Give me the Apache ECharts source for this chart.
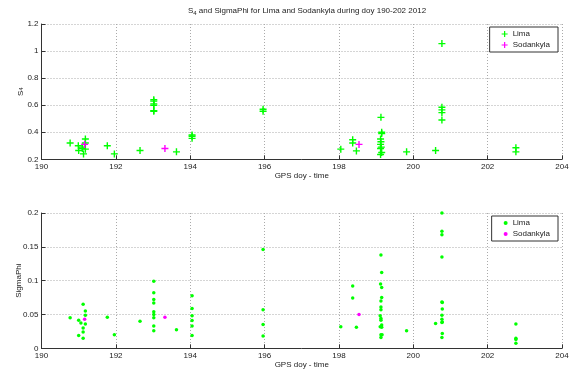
<!DOCTYPE html>
<html>
<head>
<meta charset="utf-8">
<script src="https://cdn.jsdelivr.net/npm/echarts@6/dist/echarts.min.js"></script>
<style>
    html,body{margin:0;padding:0;background:#fff;}
    #chart{width:570px;height:369px;}
</style>
</head>
<body>
<div id="chart"></div>
<script>
// S4 (top panel)
var limaS4Day = [190.77,190.99,191.00,191.10,191.10,191.13,191.18,191.18,191.18,191.77,191.96,192.65,
    193.02,193.02,193.02,193.02,193.02,193.02,193.63,194.05,194.05,194.05,195.96,195.96,
    198.05,198.37,198.37,198.47,199.13,199.15,199.15,199.12,199.13,199.12,199.14,199.12,199.15,199.12,
    199.82,200.60,200.77,200.77,200.77,200.77,200.77,202.76,202.76];
var limaS4 = [0.32,0.30,0.265,0.29,0.28,0.24,0.35,0.32,0.275,0.30,0.24,0.265,
    0.64,0.63,0.61,0.60,0.56,0.555,0.255,0.38,0.37,0.355,0.57,0.555,
    0.275,0.345,0.32,0.262,0.51,0.40,0.39,0.35,0.33,0.31,0.29,0.28,0.25,0.235,
    0.255,0.265,1.055,0.585,0.565,0.545,0.49,0.285,0.255];
var sodS4Day = [191.16,193.32,198.54];
var sodS4 = [0.31,0.28,0.31];

// SigmaPhi (bottom panel)
var limaSPDay = [190.77,191.00,191.00,191.06,191.12,191.12,191.12,191.12,191.18,191.18,191.18,191.77,191.96,192.65,
    193.02,193.02,193.02,193.02,193.02,193.02,193.02,193.02,193.02,193.63,
    194.05,194.05,194.05,194.05,194.05,194.05,195.96,195.96,195.96,195.96,
    198.05,198.37,198.37,198.47,
    199.13,199.15,199.12,199.15,199.15,199.13,199.13,199.13,199.11,199.13,199.13,199.15,199.11,199.15,199.13,199.16,199.13,
    199.82,200.60,
    200.77,200.77,200.77,200.77,200.77,200.78,200.78,200.77,200.77,200.78,200.77,200.78,200.77,
    202.76,202.76,202.76,202.76];
var limaSP = [0.045,0.0415,0.019,0.0375,0.065,0.030,0.024,0.015,0.055,0.049,0.036,0.046,0.020,0.040,
    0.099,0.082,0.072,0.067,0.054,0.050,0.045,0.033,0.026,0.0276,
    0.0775,0.0587,0.048,0.041,0.033,0.019,0.146,0.057,0.035,0.018,
    0.032,0.092,0.0745,0.031,
    0.138,0.112,0.095,0.090,0.075,0.070,0.061,0.057,0.048,0.044,0.0415,0.0345,0.032,0.031,0.020,0.020,0.016,
    0.026,0.0365,
    0.200,0.173,0.168,0.135,0.0686,0.0676,0.058,0.049,0.043,0.039,0.038,0.022,0.016,
    0.036,0.015,0.013,0.0074];
var sodSPDay = [191.16,193.32,198.54];
var sodSP = [0.043,0.046,0.050];

(function(){
    var font = 'Liberation Sans, Arial, sans-serif';
    var txt = '#222';
    var green = '#00ff00', magenta = '#ff00ff';
    var plus = 'path://M4,0h2v4h4v2h-4v4h-2v-4h-4v-2h4z';

    function pairs(xs, ys) {
        return xs.map(function(x, i){ return [x, ys[i]]; });
    }

    function xAxis(idx) {
        return {
            type: 'value', gridIndex: idx, min: 190, max: 204, interval: 2,
            name: 'GPS doy - time', nameLocation: 'middle', nameGap: 12, nameMoveOverlap: false,
            nameTextStyle: {fontFamily: font, fontSize: 8, color: txt},
            axisLine: {lineStyle: {color: '#333', width: 1}},
            axisTick: {inside: true, length: 4, lineStyle: {color: '#333'}},
            axisLabel: {fontFamily: font, fontSize: 8, color: txt, margin: 3},
            splitLine: {show: true, lineStyle: {color: '#aaa', type: [1, 2], width: 1}}
        };
    }

    function yAxis(idx, min, max, step, name, gap) {
        return {
            type: 'value', gridIndex: idx, min: min, max: max, interval: step,
            name: name, nameLocation: 'middle', nameGap: gap, nameMoveOverlap: false,
            nameTextStyle: {fontFamily: font, fontSize: 8, color: txt, rich: {
                sub: {fontSize: 6, verticalAlign: 'bottom', fontFamily: font, color: txt}
            }},
            axisLine: {show: true, lineStyle: {color: '#333', width: 1}},
            axisTick: {inside: true, length: 4, lineStyle: {color: '#333'}},
            axisLabel: {fontFamily: font, fontSize: 8, color: txt, margin: 3},
            splitLine: {show: true, lineStyle: {color: '#aaa', type: [1, 2], width: 1}}
        };
    }

    function legend(top, icon, size) {
        return {
            orient: 'vertical', right: 12, top: top,
            backgroundColor: '#fff', borderColor: '#333', borderWidth: 1, borderRadius: 0,
            padding: [3, 8, 3, 12], itemGap: 3, itemWidth: size, itemHeight: size,
            textStyle: {fontFamily: font, fontSize: 8, color: txt},
            data: [
                {name: 'Lima', icon: icon, itemStyle: {color: green}},
                {name: 'Sodankyla', icon: icon, itemStyle: {color: magenta}}
            ]
        };
    }

    var chart = echarts.init(document.getElementById('chart'));
    var option = {
        animation: false,
        backgroundColor: '#fff',
        title: {
            text: '{n|S}{sub|4}{n| and SigmaPhi for Lima and Sodankyla during doy 190-202 2012}',
            left: 302, textAlign: 'center', top: 1,
            textStyle: {fontWeight: 'normal', rich: {
                n: {fontFamily: font, fontSize: 8, color: txt, fontWeight: 'normal'},
                sub: {fontFamily: font, fontSize: 6, color: txt, fontWeight: 'normal', verticalAlign: 'bottom', padding: [4, 0, 0, 0]}
            }}
        },
        grid: [
            {left: 41.5, right: 8, top: 24, height: 135.3, outerBoundsMode: 'none', containLabel: false},
            {left: 41.5, right: 8, top: 213, height: 135.3, outerBoundsMode: 'none', containLabel: false}
        ],
        xAxis: [xAxis(0), xAxis(1)],
        yAxis: [
            yAxis(0, 0.2, 1.2, 0.2, 'S{sub|4}', 17),
            yAxis(1, 0, 0.2, 0.05, 'SigmaPhi', 19)
        ],
        legend: [legend(27, plus, 6), legend(216, 'circle', 4)],
        series: [
            {name: 'Lima', type: 'scatter', xAxisIndex: 0, yAxisIndex: 0, symbol: plus, symbolSize: 7,
                itemStyle: {color: green, opacity: 1}, data: pairs(limaS4Day, limaS4)},
            {name: 'Sodankyla', type: 'scatter', xAxisIndex: 0, yAxisIndex: 0, symbol: plus, symbolSize: 7,
                itemStyle: {color: magenta, opacity: 1}, data: pairs(sodS4Day, sodS4)},
            {name: 'Lima', type: 'scatter', xAxisIndex: 1, yAxisIndex: 1, symbol: 'circle', symbolSize: 3.5,
                itemStyle: {color: green, opacity: 1}, data: pairs(limaSPDay, limaSP)},
            {name: 'Sodankyla', type: 'scatter', xAxisIndex: 1, yAxisIndex: 1, symbol: 'circle', symbolSize: 3.5,
                itemStyle: {color: magenta, opacity: 1}, data: pairs(sodSPDay, sodSP)}
        ]
    };
    chart.setOption(option);
}());
</script>
</body>
</html>
